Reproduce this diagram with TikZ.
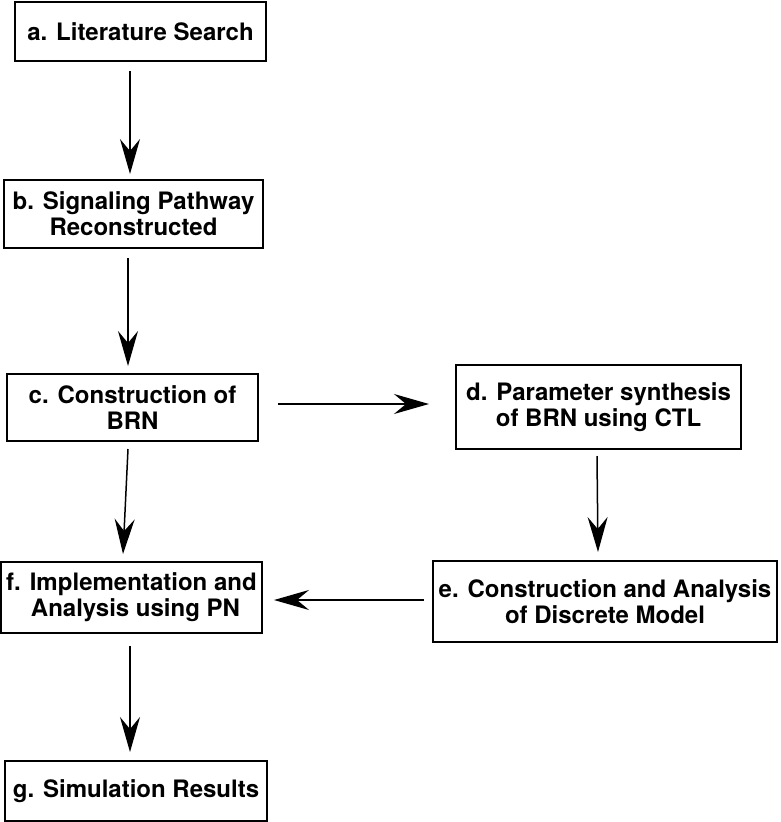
\documentclass[tikz,border=0pt]{standalone}
\usepackage{fontspec}
\setmainfont{TeX Gyre Heros}
\usetikzlibrary{arrows.meta}
\begin{document}
\begin{tikzpicture}[x=1pt,y=-1pt,
  box/.style={draw=black,line width=2pt,inner sep=0pt,align=center,
    font=\fontsize{24}{26}\selectfont\bfseries},
  arr/.style={line width=1.5pt,-{Stealth[length=35pt,width=20pt,inset=12pt]}}]
\useasboundingbox (0,0) rectangle (780,822);
\node[box,minimum width=251pt,minimum height=59pt] (a) at (140.5,31.5) {a. Literature Search};
\node[box,minimum width=259pt,minimum height=68pt] (b) at (133.5,214) {b. Signaling Pathway\\Reconstructed};
\node[box,minimum width=251pt,minimum height=67pt] (c) at (132.5,407.5) {c. Construction of\\BRN};
\node[box,minimum width=285pt,minimum height=84pt] (d) at (598.5,407) {d. Parameter synthesis\\of BRN using CTL};
\node[box,minimum width=344pt,minimum height=81pt] (e) at (605,601.5) {e. Construction and Analysis\\of Discrete Model};
\node[box,minimum width=261pt,minimum height=71pt] (f) at (131.5,597.5) {f. Implementation and\\\hspace*{8pt}Analysis using PN};
\node[box,minimum width=262pt,minimum height=60pt] (g) at (136,791) {g. Simulation Results};
\draw[arr] ([xshift=-10.5pt,yshift=-9pt]a.south) -- ([xshift=-3.5pt,yshift=5pt]b.north);
\draw[arr] ([xshift=-5.5pt,yshift=-9pt]b.south) -- ([xshift=-4.5pt,yshift=7pt]c.north);
\draw[arr] ([xshift=19pt,yshift=3.5pt]c.east) -- ([xshift=-26pt,yshift=3pt]d.west);
\draw[arr] ([xshift=-4.5pt,yshift=-7pt]c.south) -- ([xshift=-8.5pt,yshift=7pt]f.north);
\draw[arr] ([xshift=-1.5pt,yshift=-6pt]d.south) -- ([xshift=-7pt,yshift=8pt]e.north);
\draw[arr] ([xshift=-8pt,yshift=1.5pt]e.west) -- ([xshift=11pt,yshift=-2.5pt]f.east);
\draw[arr] ([xshift=-1.5pt,yshift=-12pt]f.south) -- ([xshift=-6pt,yshift=8pt]g.north);
\end{tikzpicture}
\end{document}
